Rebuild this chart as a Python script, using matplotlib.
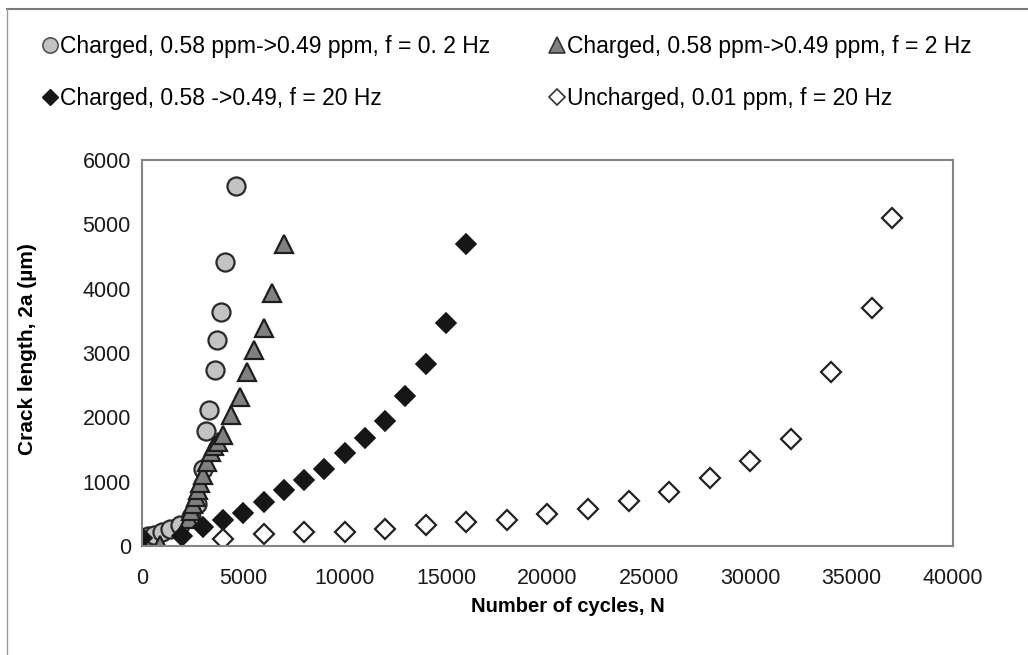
import numpy as np
import matplotlib.pyplot as plt
from matplotlib.lines import Line2D

plt.rcParams['font.family'] = ['Liberation Sans', 'DejaVu Sans']

# Charged, 0.58 ppm->0.49 ppm, f = 0.2 Hz (circles)
n_02 = [0, 300, 600, 1000, 1400, 1900, 2400, 2700, 3000, 3150, 3300, 3600, 3700, 3900, 4100, 4650]
a_02 = [100, 150, 170, 210, 260, 330, 450, 650, 1200, 1780, 2120, 2740, 3200, 3640, 4420, 5600]

# Charged, 0.58 ppm->0.49 ppm, f = 2 Hz (triangles)
n_2 = [0, 900, 2300, 2400, 2500, 2650, 2750, 2850, 3000, 3200, 3400, 3550, 3750, 4000, 4400, 4850, 5200, 5550, 6000, 6400, 7000]
a_2 = [0, 20, 420, 540, 650, 760, 870, 980, 1100, 1310, 1460, 1560, 1620, 1730, 2030, 2320, 2710, 3050, 3390, 3930, 4700]

# Charged, 0.58 ->0.49, f = 20 Hz (filled diamonds)
n_20 = [0, 2000, 3000, 4000, 5000, 6000, 7000, 8000, 9000, 10000, 11000, 12000, 13000, 14000, 15000, 16000]
a_20 = [130, 160, 290, 400, 520, 690, 870, 1020, 1200, 1440, 1680, 1940, 2330, 2830, 3470, 4700]

# Uncharged, 0.01 ppm, f = 20 Hz (open diamonds)
n_un = [4000, 6000, 8000, 10000, 12000, 14000, 16000, 18000, 20000, 22000, 24000, 26000, 28000, 30000, 32000, 34000, 36000, 37000]
a_un = [110, 180, 210, 210, 270, 320, 370, 410, 490, 580, 700, 840, 1050, 1320, 1660, 2700, 3700, 5100]

labels = ['Charged, 0.58 ppm->0.49 ppm, f = 0. 2 Hz',
          'Charged, 0.58 ->0.49, f = 20 Hz',
          'Charged, 0.58 ppm->0.49 ppm, f = 2 Hz',
          'Uncharged, 0.01 ppm, f = 20 Hz']

fig = plt.figure(figsize=(10.28, 6.55), dpi=100)
ax = fig.add_axes([0.138, 0.1664, 0.789, 0.5893])

ax.plot(n_02, a_02, 'o', ms=13, mfc='#c3c3c3', mec='#2a2a2a', mew=1.6, ls='none')
ax.plot(n_2, a_2, '^', ms=13, mfc='#808080', mec='#1e1e1e', mew=1.6, ls='none')
ax.plot(n_20, a_20, 'D', ms=10, mfc='#161616', mec='#161616', mew=1.2, ls='none')
ax.plot(n_un, a_un, 'D', ms=10, mfc='white', mec='#222222', mew=1.6, ls='none')

ax.set_xlim(0, 40000)
ax.set_ylim(0, 6000)
ax.set_xticks(np.arange(0, 40001, 5000))
ax.set_yticks(np.arange(0, 6001, 1000))
ax.tick_params(axis='x', length=0, labelsize=15.5, pad=16, colors='#1a1a1a')
ax.tick_params(axis='y', length=0, labelsize=15.5, pad=8, colors='#1a1a1a')
for s in ax.spines.values():
    s.set_color('#858585')
    s.set_linewidth(1.5)
ax.set_xlabel('Number of cycles, N', fontsize=14.5, fontweight='bold')
ax.set_ylabel('Crack length, 2a (\u00b5m)', fontsize=15, fontweight='bold')
ax.xaxis.set_label_coords(0.525, -0.132)
ax.yaxis.set_label_coords(-0.129, 0.51)

# legend (above the plot, two columns)
handles = [
    Line2D([], [], marker='o', ls='none', ms=11, mfc='#c3c3c3', mec='#555555', mew=1.2),
    Line2D([], [], marker='D', ls='none', ms=8, mfc='#161616', mec='#161616'),
    Line2D([], [], marker='^', ls='none', ms=11, mfc='#808080', mec='#333333', mew=1.2),
    Line2D([], [], marker='D', ls='none', ms=8, mfc='white', mec='#333333', mew=1.2),
]
fig.legend(handles, labels, ncol=2, loc='upper left', bbox_to_anchor=(0.022, 0.978),
           frameon=False, fontsize=16.5, handlelength=0.6, handletextpad=0.15,
           labelspacing=1.25, columnspacing=2.6)

# outer frame lines (top and left)
fig.add_artist(Line2D([0.007, 1.0], [0.986, 0.986], transform=fig.transFigure, color='#7a7a7a', lw=1.5))
fig.add_artist(Line2D([0.007, 0.007], [0.0, 0.986], transform=fig.transFigure, color='#9a9a9a', lw=1.0))

fig.savefig('out.png', dpi=100)
